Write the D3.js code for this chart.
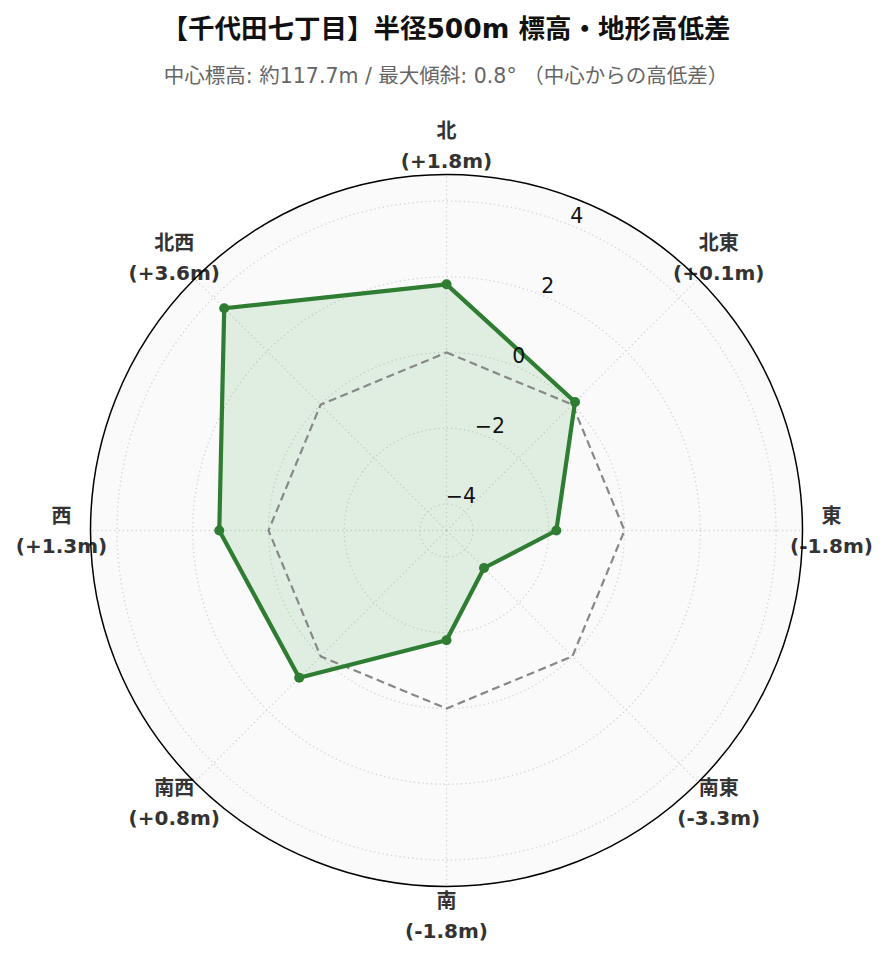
<!DOCTYPE html>
<html><head><meta charset="utf-8">
<script src="https://cdn.jsdelivr.net/npm/d3@7"></script>
<style>
body{margin:0;background:#fff;}
svg{display:block;}
</style></head>
<body>
<svg id="chart" width="889" height="962"></svg>
<script>
const directions = ["北","北東","東","南東","南","南西","西","北西"];
const values = [1.8, 0.1, -1.8, -3.3, -1.8, 0.8, 1.3, 3.6];
const valueLabels = ["(+1.8m)","(+0.1m)","(-1.8m)","(-3.3m)","(-1.8m)","(+0.8m)","(+1.3m)","(+3.6m)"];
const radialTicks = [-4, -2, 0, 2, 4];
const radialDomain = [-4.7, 4.7];
const titleText = "【千代田七丁目】半径500m 標高・地形高低差";
const subtitleText = "中心標高: 約117.7m / 最大傾斜: 0.8° （中心からの高低差）";

const svg = d3.select("#chart");
const cx = 446.5, cy = 530.5, R = 356;
const fontFam = "'DejaVu Sans','Noto Sans CJK JP',sans-serif";

const r = d3.scaleLinear().domain(radialDomain).range([0, R]);
const ang = d3.scaleLinear().domain([0, directions.length]).range([0, 2*Math.PI]);

svg.append("text").attr("x", 446).attr("y", 38).attr("text-anchor","middle")
  .attr("font-family", fontFam).attr("font-weight","bold").attr("font-size", 26.5).attr("fill","#111")
  .text(titleText);
svg.append("text").attr("x", 446).attr("y", 83).attr("text-anchor","middle")
  .attr("font-family", fontFam).attr("font-size", 20.5).attr("fill","#666")
  .text(subtitleText);

const g = svg.append("g").attr("transform", `translate(${cx},${cy})`);

g.append("circle").attr("r", R).attr("fill","#fafafa");

// direction labels (frame drawn over them)
directions.forEach((d,i) => {
  const a = ang(i);
  const x = 385*Math.sin(a), y = -385*Math.cos(a);
  const t = g.append("text").attr("text-anchor","middle")
    .attr("font-family", fontFam).attr("font-weight","bold").attr("font-size", 20).attr("fill","#333");
  t.append("tspan").attr("x", x).attr("y", y - 15 + 7).text(d);
  t.append("tspan").attr("x", x).attr("y", y + 15 + 7).text(valueLabels[i]);
});

// grid circles
radialTicks.forEach(v => {
  g.append("circle").attr("r", r(v)).attr("fill","none")
    .attr("stroke","#d4d4d4").attr("stroke-width",1.3).attr("stroke-dasharray","1.3,3");
});
// spokes
directions.forEach((d,i) => {
  const a = ang(i);
  g.append("line").attr("x1",0).attr("y1",0)
    .attr("x2", R*Math.sin(a)).attr("y2", -R*Math.cos(a))
    .attr("stroke","#d4d4d4").attr("stroke-width",1.3).attr("stroke-dasharray","1.3,3");
});

const radial = d3.lineRadial().angle((d,i)=>ang(i)).radius(d=>r(d)).curve(d3.curveLinearClosed);

// data fill
g.append("path").datum(values).attr("d", radial)
  .attr("fill","#4caf50").attr("fill-opacity",0.15);

// zero reference
g.append("path").datum(directions.map(()=>0)).attr("d", radial)
  .attr("fill","none").attr("stroke","#888").attr("stroke-width",2.2).attr("stroke-dasharray","8,4.5");

// data line
g.append("path").datum(values).attr("d", radial)
  .attr("fill","none").attr("stroke","#2e7d32").attr("stroke-width",4.2).attr("stroke-linejoin","round");
g.selectAll("circle.pt").data(values).join("circle").attr("class","pt")
  .attr("cx",(d,i)=>r(d)*Math.sin(ang(i))).attr("cy",(d,i)=>-r(d)*Math.cos(ang(i)))
  .attr("r",5).attr("fill","#2e7d32");

// tick labels at 22.5deg
const la = Math.PI/8;
radialTicks.forEach(v => {
  const rr = r(v) + 11;
  g.append("text").attr("x", rr*Math.sin(la)).attr("y", -rr*Math.cos(la) + 7.5)
    .attr("text-anchor","middle").attr("font-family", fontFam).attr("font-size", 20.5).attr("fill","#111")
    .text(v < 0 ? "\u2212" + Math.abs(v) : String(v));
});

// frame
g.append("circle").attr("r", R).attr("fill","none").attr("stroke","#000").attr("stroke-width",1.5);
</script>
</body></html>
